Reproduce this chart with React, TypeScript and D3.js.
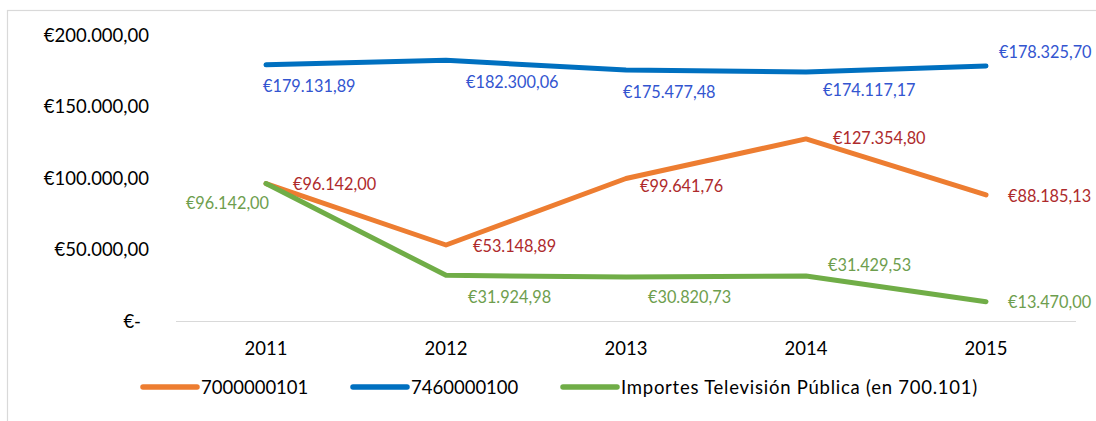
import React from 'react';
import * as d3 from 'd3';

const years = ['2011', '2012', '2013', '2014', '2015'];
const cuenta700 = [96142.0, 53148.89, 99641.76, 127354.8, 88185.13];
const cuenta746 = [179131.89, 182300.06, 175477.48, 174117.17, 178325.7];
const televisionPublica = [96142.0, 31924.98, 30820.73, 31429.53, 13470.0];
const yTicks = [0, 50000, 100000, 150000, 200000];

const series = [
  { key: '7000000101', values: cuenta700, color: '#ED7D31', labelColor: '#AE2A2C' },
  { key: '7460000100', values: cuenta746, color: '#0070C0', labelColor: '#3355D0' },
  { key: 'Importes Televisión Pública (en 700.101)', values: televisionPublica, color: '#70AD47', labelColor: '#6E9E4E' }
];

// manual label placement (dx, dy from the point, anchor), like the hand-moved Excel labels
const labelOffsets: [number, number, string][][] = [
  [[27, 6, 'start'], [27, 7, 'start'], [14, 13, 'start'], [27, 5, 'start'], [22, 7, 'start']],
  [[-3, 27, 'start'], [20, 28, 'start'], [-3, 28, 'start'], [17, 24, 'start'], [13, -8, 'start']],
  [[3, 25, 'end'], [22, 28, 'start'], [22, 26, 'start'], [22, -5, 'start'], [22, 6, 'start']]
];

const legendX = [143, 353, 563];

const W = 1096;
const H = 421;
const FONT = 'Lato, "Open Sans", sans-serif';

const euro = (v: number) => {
  if (v === 0) return '€-';
  const [int, dec] = v.toFixed(2).split('.');
  return '€' + int.replace(/\B(?=(\d{3})+(?!\d))/g, '.') + ',' + dec;
};

export default function App() {
  const x = d3.scaleBand().domain(years).range([176, 1076]);
  const y = d3.scaleLinear().domain([0, 200000]).range([321, 35]);
  const cx = (yr: string) => (x(yr) as number) + x.bandwidth() / 2;

  const line = d3
    .line<number>()
    .x((_, i) => cx(years[i]))
    .y((d) => y(d));

  return (
    <svg
      width={W}
      height={H}
      style={{ position: 'absolute', left: 0, top: 0, background: '#fff' }}
      fontFamily={FONT}
    >
      <rect x={7.5} y={10.5} width={1120} height={440} fill="#fff" stroke="#D9D9D9" strokeWidth={1.2} />

      {yTicks.map((t) => (
        <text
          key={t}
          x={t === 0 ? 141 : 149}
          y={y(t)}
          dy="0.36em"
          textAnchor="end"
          fontSize={18.5}
          fill="#000"
        >
          {euro(t)}
        </text>
      ))}

      <line x1={176} x2={1076} y1={321.5} y2={321.5} stroke="#D9D9D9" strokeWidth={1.2} />

      {years.map((yr) => (
        <text key={yr} x={cx(yr)} y={355} textAnchor="middle" fontSize={18.5} fill="#000">
          {yr}
        </text>
      ))}

      {series.map((s) => (
        <path
          key={s.key}
          d={line(s.values) || ''}
          fill="none"
          stroke={s.color}
          strokeWidth={5}
          strokeLinecap="round"
          strokeLinejoin="round"
        />
      ))}

      {series.map((s, si) =>
        s.values.map((v, i) => {
          const [dx, dy, anchor] = labelOffsets[si][i];
          return (
            <text
              key={s.key + i}
              x={cx(years[i]) + dx}
              y={y(v) + dy}
              textAnchor={anchor}
              fontSize={16.3}
              fill={s.labelColor}
            >
              {euro(v)}
            </text>
          );
        })
      )}

      {series.map((s, si) => (
        <g key={s.key} transform={`translate(${legendX[si]},387)`}>
          <line x1={0} x2={54} y1={0} y2={0} stroke={s.color} strokeWidth={5.5} strokeLinecap="round" />
          <text
            x={58}
            y={0}
            dy="0.36em"
            fontSize={18.5}
            fill="#000"
            letterSpacing={s.key.length > 12 ? 0.75 : 0}
          >
            {s.key}
          </text>
        </g>
      ))}
    </svg>
  );
}
